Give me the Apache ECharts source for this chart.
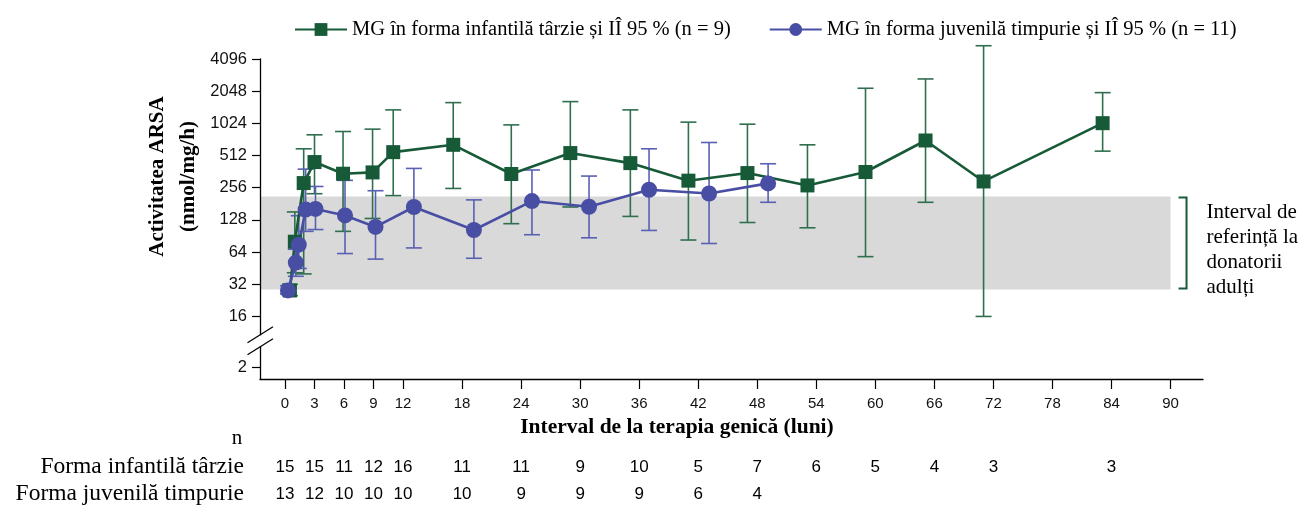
<!DOCTYPE html>
<html><head><meta charset="utf-8">
<script src="https://cdn.jsdelivr.net/npm/echarts@6/dist/echarts.min.js"></script>
<style>html,body{margin:0;padding:0;background:#fff}#c{width:1301px;height:506px}</style>
</head><body><div id="c"></div>
<script>
// ---- data ----
const seriesNames = ['MG în forma infantilă târzie și IÎ 95 % (n = 9)', 'MG în forma juvenilă timpurie și IÎ 95 % (n = 11)'];
const lateMonths = [0.5, 1, 1.9, 3, 5.9, 8.9, 11, 17.1, 23, 29, 35.1, 41, 47, 53.1, 59, 65.1, 71, 83.1];
const lateMean   = [28, 80, 283, 445, 346, 356, 551, 645, 344, 540, 435, 298, 351, 269, 359, 708, 293, 1028];
const lateLow    = [25, 41, 40, 225, 100, 132, 216, 252, 118, 169, 138, 83, 121, 108, 58, 187, 16, 563];
const lateHigh   = [32, 152, 592, 800, 859, 904, 1369, 1601, 991, 1636, 1369, 1051, 1006, 645, 2181, 2665, 5450, 1985];
const earlyMonths = [0.3, 1.1, 1.4, 2.1, 3.1, 6.1, 9.2, 13.1, 19.2, 25.1, 30.9, 37, 43.1, 49.1];
const earlyMean   = [28, 51, 75, 160, 162, 141, 110, 169, 103, 192, 170, 245, 226, 281];
const earlyLow    = [26, 38, 45, 100, 104, 62, 55, 70, 56, 93, 87, 102, 77, 187];
const earlyHigh   = [31, 68, 140, 382, 263, 300, 240, 388, 197, 375, 329, 592, 678, 429];
const xTicks = [0, 3, 6, 9, 12, 18, 24, 30, 36, 42, 48, 54, 60, 66, 72, 78, 84, 90];
const yTicks = [2, 16, 32, 64, 128, 256, 512, 1024, 2048, 4096];
const refRange = [28.6, 212];
const refLabel = 'Interval de\nreferință la\ndonatorii\nadulți';
const tableMonths = [0, 3, 6, 9, 12, 18, 24, 30, 36, 42, 48, 54, 60, 66, 72, 84];
const rowLabels = ['Forma infantilă târzie', 'Forma juvenilă timpurie'];
const nLate  = [15, 15, 11, 12, 16, 11, 11, 9, 10, 5, 7, 6, 5, 4, 3, 3];
const nEarly = [13, 12, 10, 10, 10, 10, 9, 9, 9, 6, 4];

// ---- broken log2 scale: log2 above 16, compressed between 2 and 16 ----
const K = 0.5236;
function ax(v) { const l = Math.log2(v); return l >= 4 ? l : 4 - (4 - l) * K; }

const GREEN = '#175a38', GREEN_E = '#2f6f4d', BLUE = '#474ea3', BLUE_E = '#5a60b3';
const SERIF = 'Liberation Serif', SANS = 'Liberation Sans';

function errSeries(name, months, low, high, color, extra) {
  return Object.assign({
    type: 'custom', name: name, silent: true, clip: false,
    data: months.map((m, i) => [m, ax(low[i]), ax(high[i])]),
    encode: { x: 0, y: [1, 2] },
    renderItem: function (params, api) {
      const x = api.value(0);
      const lo = api.coord([x, api.value(1)]);
      const hi = api.coord([x, api.value(2)]);
      const w = 8;
      const style = { stroke: color, lineWidth: 1.6, fill: null };
      return { type: 'group', children: [
        { type: 'line', shape: { x1: lo[0], y1: lo[1], x2: hi[0], y2: hi[1] }, style: style },
        { type: 'line', shape: { x1: lo[0] - w, y1: lo[1], x2: lo[0] + w, y2: lo[1] }, style: style },
        { type: 'line', shape: { x1: hi[0] - w, y1: hi[1], x2: hi[0] + w, y2: hi[1] }, style: style }
      ]};
    }
  }, extra || {});
}

const yVals = yTicks.map(ax);
const option = {
  animation: false,
  backgroundColor: '#fff',
  grid: { left: 260, right: 98, top: 59, bottom: 127 },
  legend: {
    data: seriesNames, left: 289, top: 14, itemWidth: 52, itemHeight: 16, itemGap: 38,
    textStyle: { fontFamily: SERIF, fontSize: 20.5, color: '#000' }
  },
  xAxis: {
    type: 'value', min: -2.54, max: 93.3,
    name: 'Interval de la terapia genică (luni)', nameLocation: 'middle', nameGap: 37,
    nameTextStyle: { fontFamily: SERIF, fontWeight: 'bold', fontSize: 21.5, color: '#000', padding: [0, 109, 0, 0] },
    axisLine: { onZero: false, lineStyle: { color: '#000', width: 1.3 } },
    axisTick: { length: 10, customValues: xTicks, lineStyle: { color: '#000', width: 1.2 } },
    axisLabel: { customValues: xTicks, margin: 17, fontFamily: SANS, fontSize: 15, color: '#111' },
    splitLine: { show: false }
  },
  yAxis: {
    type: 'value', min: 2.056, max: 12, z: 10,
    name: '{a|Activitatea ARSA}\n{a|(nmol/mg/h)}', nameLocation: 'middle', nameRotate: 90, nameGap: 54,
    nameTextStyle: { padding: [0, 0, 0, 85], rich: { a: { fontFamily: SERIF, fontWeight: 'bold', fontSize: 21, color: '#000', lineHeight: 31 } } },
    axisLine: { onZero: false, lineStyle: { color: '#000', width: 1.3 } },
    axisTick: { length: 8, customValues: yVals, lineStyle: { color: '#000', width: 1.2 } },
    axisLabel: {
      customValues: yVals, margin: 13, fontFamily: SANS, fontSize: 16.5, color: '#111',
      formatter: function (v) { for (let i = 0; i < yTicks.length; i++) if (Math.abs(yVals[i] - v) < 1e-6) return String(yTicks[i]); return ''; }
    },
    splitLine: { show: false }
  },
  series: [
    errSeries('late-ci', lateMonths, lateLow, lateHigh, GREEN_E, {
      markArea: { silent: true, itemStyle: { color: '#d9d9d9' },
        data: [[{ xAxis: -2.54, yAxis: ax(refRange[0]) }, { xAxis: 90, yAxis: ax(refRange[1]) }]] }
    }),
    { type: 'line', name: seriesNames[0], data: lateMonths.map((m, i) => [m, ax(lateMean[i])]),
      symbol: 'rect', symbolSize: 14, color: GREEN,
      lineStyle: { color: GREEN, width: 2.6 }, itemStyle: { color: GREEN } },
    errSeries('early-ci', earlyMonths, earlyLow, earlyHigh, BLUE_E),
    { type: 'line', name: seriesNames[1], data: earlyMonths.map((m, i) => [m, ax(earlyMean[i])]),
      symbol: 'circle', symbolSize: 16, color: BLUE,
      lineStyle: { color: BLUE, width: 2.6 }, itemStyle: { color: BLUE } }
  ]
};

const chart = echarts.init(document.getElementById('c'));
chart.setOption(option);

const px = m => chart.convertToPixel({ xAxisIndex: 0 }, m);
const py = v => chart.convertToPixel({ yAxisIndex: 0 }, ax(v));
const axisX = px(-2.54);
const yTop = py(refRange[1]), yBot = py(refRange[0]);
const y16 = py(16), y2 = py(2);
const bc = y16 + (y2 - y16) * 0.48;

const g = [];
// axis break marker
g.push({ type: 'rect', z: 100, shape: { x: axisX - 3, y: bc - 5.5, width: 6, height: 11 }, style: { fill: '#fff' } });
[-6, 6].forEach(d => g.push({ type: 'line', z: 101, shape: { x1: axisX - 12.5, y1: bc + d + 8, x2: axisX + 13, y2: bc + d - 8 }, style: { stroke: '#000', lineWidth: 1.3 } }));
// reference bracket and label
const bx = px(90) + 16;
g.push({ type: 'polyline', z: 100, shape: { points: [[bx - 8, yTop + 1], [bx, yTop + 1], [bx, yBot - 1], [bx - 8, yBot - 1]] }, style: { stroke: GREEN, lineWidth: 2, fill: null } });
g.push({ type: 'text', z: 100, x: bx + 20, y: yTop + 4, style: { text: refLabel, fontFamily: SERIF, fontSize: 21, lineHeight: 25, fill: '#000', textVerticalAlign: 'top' } });
// n table
g.push({ type: 'text', z: 100, x: 237, y: 438, style: { text: 'n', fontFamily: SERIF, fontSize: 21, fill: '#000', textAlign: 'center', textVerticalAlign: 'middle' } });
[[nLate, 467], [nEarly, 494]].forEach(function (row, r) {
  g.push({ type: 'text', z: 100, x: 244, y: row[1], style: { text: rowLabels[r], fontFamily: SERIF, fontSize: 23.5, fill: '#000', textAlign: 'right', textVerticalAlign: 'middle' } });
  row[0].forEach(function (n, i) {
    g.push({ type: 'text', z: 100, x: px(tableMonths[i]), y: row[1], style: { text: String(n), fontFamily: SANS, fontSize: 17, fill: '#000', textAlign: 'center', textVerticalAlign: 'middle' } });
  });
});
chart.setOption({ graphic: { elements: g } });
</script>
</body></html>
